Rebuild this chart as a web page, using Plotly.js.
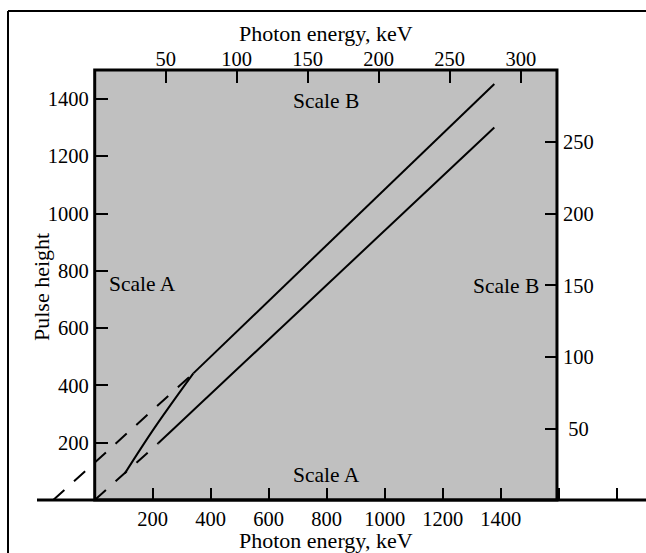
<!DOCTYPE html>
<html><head><meta charset="utf-8">
<script src="https://cdn.plot.ly/plotly-3.0.1.min.js"></script>
<style>html,body{margin:0;padding:0;background:#fff}</style>
</head><body><div id="chart" style="width:646px;height:553px"></div>
<script>
// Scale A data (bottom axis: photon energy keV, left axis: pulse height)
const upperSolidX = [340, 1378];
const upperSolidY = [442, 1452];
const lowerSolidX = [219, 1378];
const lowerSolidY = [198, 1300];
const steepX = [104, 205, 340];
const steepY = [93, 250, 442];
const upperDashX = [-143, 340];
const upperDashY = [0, 442];
const lowerDashX = [0, 219];
const lowerDashY = [0, 198];

// tick values / labels
const bottomTicks = [200, 400, 600, 800, 1000, 1200, 1400, 1600, 1800];
const bottomLabels = ['200', '400', '600', '800', '1000', '1200', '1400', '', ''];
const leftTicks = [200, 400, 600, 800, 1000, 1200, 1400];
const topTicks = [50, 100, 150, 200, 250, 300];
const rightTicks = [50, 100, 150, 200, 250];
const rightLabels = ['\u00a050', '100', '150', '200', '250'];

const W = 646, H = 553;
const px = v => v / W;
const py = v => (H - v) / H;
const FONT = 'Liberation Serif, Times New Roman, serif';

const axisCommon = {
  showgrid: false, zeroline: false, showline: false,
  ticks: 'inside', ticklen: 12, tickwidth: 2, tickcolor: '#000',
  tickfont: {family: FONT, size: 20.5, color: '#000'},
  fixedrange: true, autorange: false
};

const lineStyle = (dash) => ({color: '#000', width: 2, dash: dash});

const traces = [
  {x: upperSolidX, y: upperSolidY, mode: 'lines', line: lineStyle('solid'), hoverinfo: 'skip', showlegend: false},
  {x: lowerSolidX, y: lowerSolidY, mode: 'lines', line: lineStyle('solid'), hoverinfo: 'skip', showlegend: false},
  {x: steepX, y: steepY, mode: 'lines', line: Object.assign(lineStyle('solid'), {shape: 'spline', smoothing: 1}), hoverinfo: 'skip', showlegend: false},
  {x: upperDashX, y: upperDashY, mode: 'lines', line: lineStyle('15px,13px'), hoverinfo: 'skip', showlegend: false},
  {x: lowerDashX, y: lowerDashY, mode: 'lines', line: lineStyle('15px,13px'), hoverinfo: 'skip', showlegend: false},
  {x: [null], y: [null], xaxis: 'x2', yaxis: 'y2', mode: 'lines', hoverinfo: 'skip', showlegend: false}
];

const ann = (text, x, y, opts) => Object.assign({
  text: text, x: px(x), y: py(y), xref: 'paper', yref: 'paper',
  showarrow: false, xanchor: 'center', yanchor: 'middle',
  font: {family: FONT, size: 21.5, color: '#000'}
}, opts || {});

const titleFont = {family: FONT, size: 22, color: '#000'};

const layout = {
  width: W, height: H,
  margin: {l: 0, r: 0, t: 0, b: 0, pad: 0},
  paper_bgcolor: '#fff', plot_bgcolor: 'rgba(0,0,0,0)',
  showlegend: false,
  xaxis: Object.assign({}, axisCommon, {
    range: [-326.6, 1901], anchor: 'free', position: py(500), ticklabelstandoff: 4,
    tickmode: 'array', tickvals: bottomTicks, ticktext: bottomLabels, side: 'bottom'
  }),
  yaxis: Object.assign({}, axisCommon, {
    range: [-185, 1745.2], anchor: 'free', position: px(94.7), ticklabelstandoff: 6,
    tickmode: 'array', tickvals: leftTicks, ticktext: leftTicks.map(String), side: 'left'
  }),
  xaxis2: Object.assign({}, axisCommon, {
    range: [-66.7, 388.2], anchor: 'free', position: py(70), overlaying: 'x',
    tickmode: 'array', tickvals: topTicks, ticktext: topTicks.map(String), side: 'top'
  }),
  yaxis2: Object.assign({}, axisCommon, {
    range: [-36.6, 349.0], anchor: 'free', position: px(557), overlaying: 'y', ticklabelstandoff: 5,
    tickmode: 'array', tickvals: rightTicks, ticktext: rightLabels, side: 'right'
  }),
  shapes: [
    {type: 'rect', xref: 'x', yref: 'y', x0: 0, x1: 1594, y0: 0, y1: 1501,
     fillcolor: '#c0c0c0', line: {color: '#000', width: 3}, layer: 'below'},
    {type: 'line', xref: 'x', yref: 'y', x0: -199, x1: 1901, y0: 0, y1: 0,
     line: {color: '#000', width: 3}, layer: 'above'},
    {type: 'line', xref: 'paper', yref: 'paper', x0: px(8), x1: 1, y0: py(11), y1: py(11),
     line: {color: '#000', width: 2}},
    {type: 'line', xref: 'paper', yref: 'paper', x0: px(8), x1: px(8), y0: 0, y1: py(11),
     line: {color: '#000', width: 2}}
  ],
  annotations: [
    ann('Photon energy, keV', 326, 33, {font: titleFont}),
    ann('Photon energy, keV', 326.5, 540, {font: titleFont}),
    ann('Pulse height', 41, 287, {textangle: -90, font: titleFont}),
    ann('Scale A', 142, 284),
    ann('Scale B', 541, 286, {xanchor: 'right'}),
    ann('Scale A', 326, 475),
    ann('Scale B', 326, 101)
  ]
};

Plotly.newPlot('chart', traces, layout, {staticPlot: true, displayModeBar: false});
</script></body></html>
